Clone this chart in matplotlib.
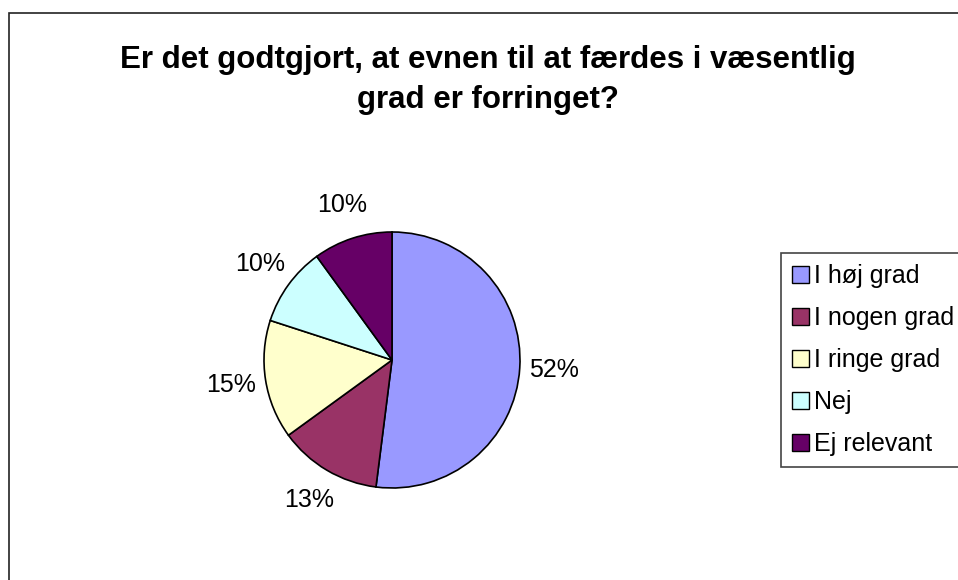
import matplotlib.pyplot as plt
from matplotlib.patches import Rectangle, Patch

plt.rcParams['font.family'] = ['Liberation Sans', 'DejaVu Sans']

categories = ['I høj grad', 'I nogen grad', 'I ringe grad', 'Nej', 'Ej relevant']
values = [52, 13, 15, 10, 10]
colors = ['#9999FF', '#993366', '#FFFFCC', '#CCFFFF', '#660066']
title = 'Er det godtgjort, at evnen til at færdes i væsentlig\ngrad er forringet?'

W, H = 958, 580
fig = plt.figure(figsize=(W / 100, H / 100), dpi=100)

# outer chart frame (right and bottom edges fall outside the image)
fig.add_artist(Rectangle((8.5 / W, -0.05), 1.0, 1 - 12.5 / H + 0.05,
                         transform=fig.transFigure, fill=False,
                         edgecolor='#222222', linewidth=1.2))

fig.text(488 / W, 1 - 80 / H, title, ha='center', va='center',
         fontsize=22.5, fontweight='bold', linespacing=1.45)

cx, cy, r = 392, 360, 128
ax = fig.add_axes([(cx - r) / W, 1 - (cy + r) / H, 2 * r / W, 2 * r / H])
wedges, texts, autotexts = ax.pie(
    values, colors=colors, startangle=90, counterclock=False,
    autopct='%1.0f%%', pctdistance=1.27,
    wedgeprops=dict(edgecolor='black', linewidth=1.2),
    textprops=dict(fontsize=18))
ax.set_xlim(-1, 1)
ax.set_ylim(-1, 1)
ax.set_aspect('equal')
ax.axis('off')

handles = [Patch(facecolor=c, edgecolor='black', linewidth=1) for c in colors]
leg = fig.legend(handles, categories, loc='upper left', mode='expand',
                 bbox_to_anchor=(781 / W, 1 - 253 / H, 200 / W, 0),
                 fontsize=18, frameon=True, fancybox=False,
                 edgecolor='#444444', framealpha=1,
                 handlelength=0.65, handleheight=0.65, handletextpad=0.2,
                 labelspacing=0.72, borderpad=0.45, borderaxespad=0)
leg.get_frame().set_linewidth(1.2)

fig.savefig('out.png', dpi=100)
